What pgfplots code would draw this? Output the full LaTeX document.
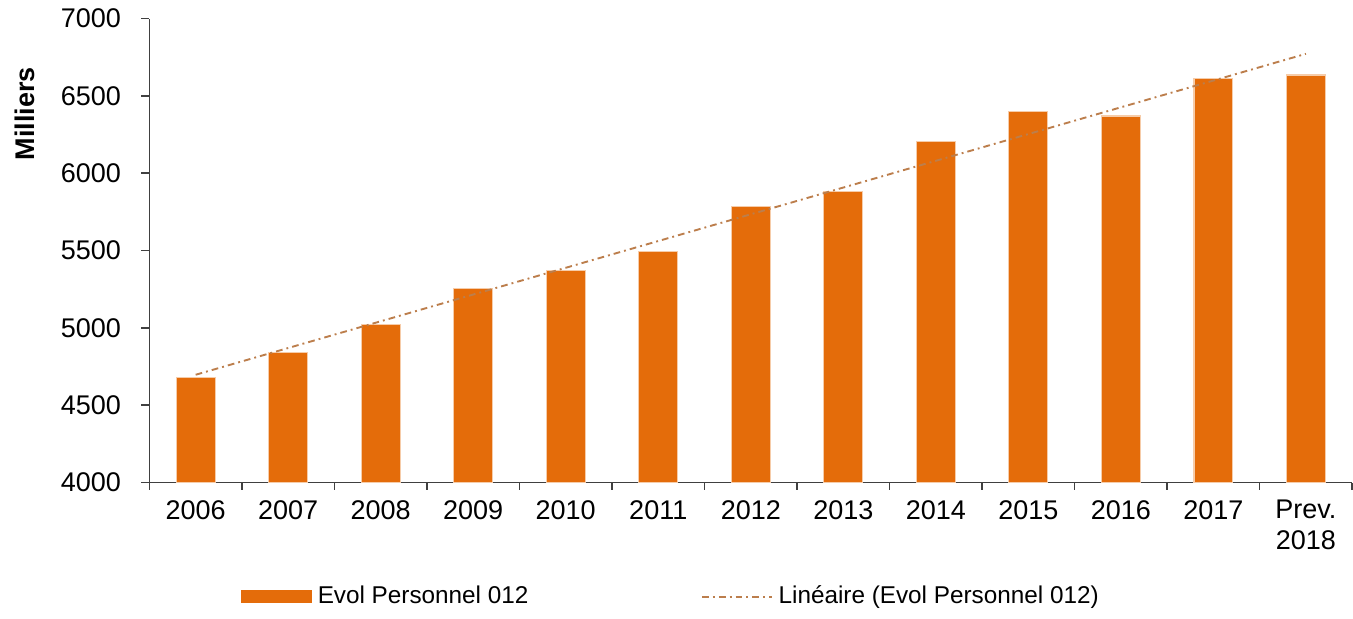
\documentclass[border=0pt]{standalone}
\usepackage{fontspec}
\setmainfont{Liberation Sans}
\usepackage{pgfplots}
\pgfplotsset{compat=1.18}
\definecolor{barorange}{RGB}{228,108,10}
\definecolor{trendbrown}{RGB}{188,126,76}
\definecolor{axisgray}{RGB}{64,64,64}
\pgfplotsset{
  barlegend/.style={legend image code/.code={\fill[barorange] (0pt,-2.3pt) rectangle (26pt,2.3pt);}},
  linelegend/.style={legend image code/.code={\draw[trendbrown, line width=0.7pt,
    dash pattern=on 2.5pt off 1.5pt on 0.7pt off 1.5pt] (0pt,0pt) -- (26pt,0pt);}},
}

\begin{document}
\begin{tikzpicture}
\begin{axis}[
  width=445.6pt, height=171.9pt, scale only axis,
  xmin=-0.5, xmax=12.5, ymin=4000, ymax=7000,
  axis x line=bottom, axis y line=left,
  axis line style={-, axisgray, line width=0.6pt},
  tick align=outside,
  major tick length=3pt, minor tick length=2.6pt,
  tick style={axisgray, line width=0.6pt},
  ytick={4000,4500,...,7000},
  xtick={0,...,12},
  major x tick style={draw=none},
  minor xtick={-0.5,0.5,...,12.5},
  xticklabels={2006,2007,2008,2009,2010,2011,2012,2013,2014,2015,2016,2017,{Prev.\\2018}},
  xticklabel style={align=center, font=\fontsize{10}{11.5}\selectfont},
  yticklabel style={xshift=-4pt},
  /pgf/number format/1000 sep={},
  /pgf/number format/assume math mode=true,
  ylabel={Milliers},
  ylabel style={font=\bfseries, inner ysep=5.5pt,
    at={(axis description cs:-0.0826,0.795)}, anchor=south},
  bar width=0.42,
  legend columns=2,
  legend style={at={(0.435,-0.246)}, anchor=center, draw=none,
    font=\fontsize{9}{11}\selectfont,
    /tikz/every even column/.append style={column sep=62pt}},
]
\addplot[ybar, fill=barorange, draw=barorange!35, line width=0.4pt, barlegend]
  coordinates {
  (0,4680)(1,4840)(2,5020)(3,5255)(4,5370)(5,5495)(6,5785)
  (7,5880)(8,6205)(9,6400)(10,6370)(11,6610)(12,6635)};
\addlegendentry{Evol Personnel 012}
\addplot[sharp plot, trendbrown, line width=0.7pt,
  dash pattern=on 2.5pt off 1.5pt on 0.7pt off 1.5pt, linelegend]
  coordinates {(0,4697)(12,6772)};
\addlegendentry{Linéaire (Evol Personnel 012)}
\end{axis}
\end{tikzpicture}
\end{document}
